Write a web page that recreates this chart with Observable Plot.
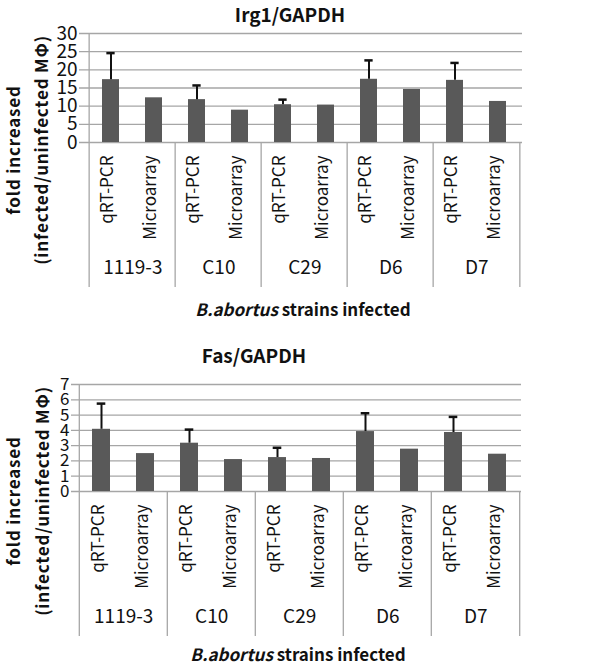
<!DOCTYPE html>
<html><head><meta charset="utf-8">
<script src="https://cdn.jsdelivr.net/npm/d3@7"></script>
<script src="https://cdn.jsdelivr.net/npm/@observablehq/plot@0.6"></script>
<style>
body{margin:0;background:#fff}
#wrap{position:relative;width:600px;height:666px;font-family:"Noto Sans CJK KR","Noto Sans",sans-serif;color:#111}
#wrap svg{position:absolute;left:0}
</style></head><body><div id="wrap"></div>
<script>
// ---- data ----
const strains = ["1119-3", "C10", "C29", "D6", "D7"];
const methods = ["qRT-PCR", "Microarray"];
const irg1Qrt   = [17.3, 11.8, 10.4, 17.4, 17.1];
const irg1QrtSd = [7.3, 3.9, 1.4, 5.2, 4.8];
const irg1Micro = [12.3, 8.9, 10.3, 14.6, 11.3];
const fasQrt    = [4.07, 3.16, 2.22, 3.92, 3.86];
const fasQrtSd  = [1.68, 0.89, 0.64, 1.20, 1.02];
const fasMicro  = [2.48, 2.09, 2.16, 2.77, 2.44];
const irg1Ticks = [0, 5, 10, 15, 20, 25, 30];
const fasTicks  = [0, 1, 2, 3, 4, 5, 6, 7];
const titles = ["Irg1/GAPDH", "Fas/GAPDH"];
const yLabel = ["fold increased", "(infected/uninfected MΦ)"];
const xLabelItalic = "B.abortus";
const xLabelRest = " strains infected";

const FONT = '"Noto Sans CJK KR","Noto Sans",sans-serif';
const GRID = "#a6a6a6";

function rows(qrt, sd, micro) {
  return strains.flatMap((s, i) => [
    {strain: s, method: methods[0], key: s + "|" + methods[0], value: qrt[i], upper: qrt[i] + sd[i]},
    {strain: s, method: methods[1], key: s + "|" + methods[1], value: micro[i], upper: null}
  ]);
}

function chart({data, ticks, top, height, marginTop, marginBottom, marginLeft, marginRight, tickFont}) {
  const width = 600;
  const step = (width - marginLeft - marginRight) / data.length;
  const innerH = height - marginTop - marginBottom;
  const firsts = data.filter(d => d.method === methods[0]);
  const lasts = data.filter(d => d.method === methods[1]);
  const errs = data.filter(d => d.upper != null);
  const ext = 145;
  const svg = Plot.plot({
    width, height, marginTop, marginBottom, marginLeft, marginRight,
    x: {type: "band", domain: data.map(d => d.key), padding: 0, axis: null},
    y: {domain: [0, d3.max(ticks)], axis: null},
    style: {fontFamily: FONT, background: "transparent", overflow: "visible", color: "#111"},
    marks: [
      Plot.ruleY(ticks, {stroke: GRID, strokeWidth: 1.3, insetLeft: -6}),
      Plot.axisY({ticks, tickFormat: d => String(d), tickSize: 0, tickPadding: 8, fontSize: tickFont, fill: "#111"}),
      Plot.barY(data, {x: "key", y: "value", fill: "#595959", insetLeft: 13, insetRight: 13}),
      Plot.ruleX(errs, {x: "key", y1: "value", y2: "upper", stroke: "#111", strokeWidth: 2}),
      Plot.tickY(errs, {x: "key", y: "upper", stroke: "#111", strokeWidth: 2.5, insetLeft: (step - 9) / 2, insetRight: (step - 9) / 2}),
      Plot.ruleX([firsts[0]], {x: "key", dx: -step / 2, stroke: GRID, strokeWidth: 1.3, insetBottom: -ext}),
      Plot.ruleX(firsts.slice(1), {x: "key", dx: -step / 2, stroke: GRID, strokeWidth: 1.3, insetTop: innerH, insetBottom: -ext}),
      Plot.ruleX([lasts[lasts.length - 1]], {x: "key", dx: step / 2, stroke: GRID, strokeWidth: 1.3, insetTop: innerH, insetBottom: -ext}),
      Plot.text(data, {x: "key", text: "method", rotate: -90, textAnchor: "end", frameAnchor: "bottom", dy: 13, dx: 2, fontSize: 17, fill: "#111"}),
      Plot.text(firsts, {x: "key", text: "strain", dx: step / 2, frameAnchor: "bottom", dy: 131, fontSize: 19, fill: "#111"})
    ]
  });
  svg.style.top = top + "px";
  return svg;
}

const wrap = document.getElementById("wrap");
wrap.appendChild(chart({data: rows(irg1Qrt, irg1QrtSd, irg1Micro), ticks: irg1Ticks, top: 0, height: 333,
  marginTop: 33, marginBottom: 191, marginLeft: 85, marginRight: 78, tickFont: 19}));
wrap.appendChild(chart({data: rows(fasQrt, fasQrtSd, fasMicro), ticks: fasTicks, top: 333, height: 333,
  marginTop: 51, marginBottom: 175, marginLeft: 77, marginRight: 79, tickFont: 17}));

// overlay text: titles, axis labels
const ov = d3.select(wrap).append("svg").attr("width", 600).attr("height", 666)
  .style("top", "0px").style("font-family", FONT).style("fill", "#111");
const panels = [
  {title: titles[0], tx: 290, ty: 22, lx: [12, 40], ly: 150, xx: 303, xy: 316},
  {title: titles[1], tx: 254, ty: 363, lx: [12, 41], ly: 501, xx: 298, xy: 661}
];
for (const p of panels) {
  ov.append("text").attr("x", p.tx).attr("y", p.ty).attr("text-anchor", "middle")
    .attr("font-size", 19).attr("font-weight", "bold").text(p.title);
  yLabel.forEach((t, i) => {
    ov.append("text").attr("transform", `translate(${p.lx[i]},${p.ly}) rotate(-90)`)
      .attr("text-anchor", "middle").attr("dominant-baseline", "central")
      .attr("font-size", 17).attr("letter-spacing", 0.8).attr("font-weight", "bold").text(t);
  });
  const xt = ov.append("text").attr("x", p.xx).attr("y", p.xy).attr("text-anchor", "middle")
    .attr("font-size", 17).attr("font-weight", "bold");
  xt.append("tspan").attr("font-style", "italic").text(xLabelItalic);
  xt.append("tspan").text(xLabelRest);
}
</script></body></html>
